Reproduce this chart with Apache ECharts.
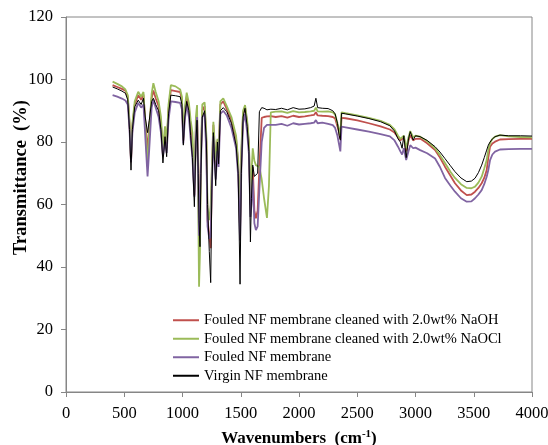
<!DOCTYPE html>
<html>
<head>
<meta charset="utf-8">
<script src="https://cdn.jsdelivr.net/npm/echarts@6/dist/echarts.min.js"></script>
<style>
  html, body { margin: 0; padding: 0; background: #fff; }
  #chart { width: 548px; height: 445px; }
</style>
</head>
<body>
<div id="chart"></div>
<script>
// FTIR spectra, values
const wavenumbers = [400,440,480,510,530,545,558,570,590,620,
  645,665,680,700,715,735,750,770,795,815,
  832,850,864,880,900,940,980,995,1007,1020,
  1036,1055,1070,1085,1102,1115,1125,1135,1142,1150,
  1158,1170,1190,1205,1215,1230,1242,1252,1265,1285,
  1300,1310,1325,1350,1380,1420,1460,1478,1494,1505,
  1520,1537,1555,1570,1583,1592,1603,1617,1630,1645,
  1660,1680,1700,1725,1742,1758,1800,1850,1900,1950,
  2000,2050,2100,2130,2145,2160,2200,2250,2290,2310,
  2330,2345,2355,2365,2400,2500,2600,2700,2780,2820,
  2850,2870,2885,2900,2920,2940,2955,2980,3000,3040,
  3100,3168,3210,3253,3300,3339,3390,3440,3480,3511,
  3540,3568,3590,3611,3625,3640,3660,3683,3725,3800,
  3900,4000];

const virgin = [97.6,97.0,96.3,95.6,93.5,84,71.0,84,91.3,93.4,
  92.0,94.0,88,83,87,93,94,92,90,84,
  73.3,81.7,75.3,89,95,94.8,94.5,92,79,88,
  93,90,82,75,59.3,80,87,70,55,46.5,
  70,88,90,80,60,45,35,65,83,66,
  80,73,90,91,89.7,86,79,70,34.5,70,
  88,90.8,85,77,48,62,72.6,69,68.5,70,
  89.7,91.0,90.8,90.3,90.3,90.5,90.4,90.8,90.3,91.0,
  90.5,90.6,91.0,91.5,94.0,91.0,90.8,90.7,90.0,89.0,
  86.0,82,80.6,89.2,89.0,88.3,87.5,86.5,85.2,83.5,
  81,80,78,82,75,81,83.3,80.6,82,81.7,
  80.5,78.5,76.8,74.7,72.4,70.5,68.5,67.3,67.5,68.4,
  70.2,72.6,75.0,77.4,79.0,80.0,81.0,81.7,82.2,82.0,
  82.0,81.9];

const naohCleaned = [98.2,97.6,97.0,96.4,94.5,86,73.5,85,92,95,
  93.5,95.2,87,77,85,94,96.5,94,91.5,86,
  76,83,78,90.5,96.6,96.3,96.0,93.5,80.5,89.5,
  94.5,91,84,79,63,84,89,72,52,54,
  75,90,91.5,80,55,50,46,70,85.5,71,
  80.5,75,92,93,90.5,87,81,73,52,75,
  89,91.2,86,79,60,66,72,58,55.6,58,
  72,87.7,88.0,88.2,88.2,88.3,88.0,88.3,87.8,88.4,
  88.0,88.2,88.5,88.7,89.5,88.5,88.4,88.3,88.0,87.5,
  85,83,81,87.7,87.6,86.9,86.0,85.0,84.0,83.0,
  81.5,80.5,80,81.5,77,80.5,82.2,80.5,81,81.1,
  79.6,77.4,75,72.1,69.2,66.8,64.5,63.0,63.2,64.1,
  65.3,66.8,68.5,71.0,75,78.5,79.5,80.1,80.8,80.9,
  81.0,81.0];

const naoclCleaned = [99.3,98.6,97.8,96.8,95.0,87,74,86,93,96.1,
  94.5,96.0,86,72,84,95.5,98.8,96,93,88,
  78,85,80,92,98.2,97.8,96.8,94.5,81.5,91,
  95.8,92.5,87,83,66,88,91.8,60,33.7,45,
  78,92,92.7,82,59,55,60,72,86.5,74,
  81,77,93,94,91.5,88,82,74,55,78,
  90,91.8,87,80,62,70,78,74,72.6,72.6,
  72,68,62,55.7,66,89.5,89.7,89.8,89.3,89.9,
  89.5,89.6,89.8,90.0,91.0,89.8,89.7,89.8,89.5,88.8,
  86,84,82,89.5,89.2,88.5,87.7,86.8,85.5,84.0,
  82,81,80.5,82,78,81.5,83.5,81.5,82,81.7,
  80.3,78.0,75.8,73.3,70.5,68.5,66.5,65.3,65.2,65.7,
  67.0,68.9,71.5,74.2,77.5,79.6,81.0,81.7,82.2,81.8,
  81.6,81.5];

const fouled = [95.0,94.5,93.9,93.3,92.0,84,73.5,83,89.5,92.5,
  91.0,92.0,82,69,78,91,93.5,91,88,83,
  75.5,80,76.5,87,93,92.8,92.5,90.5,79.5,87,
  92,88,81,75,62.5,82,88,68,50,49.5,
  72,88,89,76,53,49,49.7,66,82,68,
  77,72,89,90,88.5,84.5,78,69,48.5,71,
  86,89,83,76,56,60,68,54,51.8,53,
  65,80,84.5,85.5,85.5,85.5,85.5,85.8,85.2,86.0,
  85.6,85.8,86.0,86.2,87.0,86.0,86.2,85.8,85.4,84.5,
  82,79,77,84.9,84.7,84.0,83.3,82.5,81.8,80.5,
  78.5,77,76,78,74.2,77,79.0,78.0,78.2,77.4,
  76.4,74.7,72,68.5,66.0,64.1,62.0,60.9,61.0,62.0,
  63.2,64.6,66.5,68.9,71,74.2,76.0,76.9,77.6,77.7,
  77.8,77.8];

const seriesNames = [
  'Fouled NF membrane cleaned with 2.0wt% NaOH',
  'Fouled NF membrane cleaned with 2.0wt% NaOCl',
  'Fouled NF membrane',
  'Virgin NF membrane'
];

const FONT = "'Liberation Serif', 'Times New Roman', serif";

const pairs = (ys) => wavenumbers.map((x, i) => [x, ys[i]]);

const makeSeries = (name, ys, color, width) => ({
  name: name,
  type: 'line',
  data: pairs(ys),
  showSymbol: false,
  symbol: 'none',
  lineStyle: { color: color, width: width },
  itemStyle: { color: color },
  animation: false
});

const chart = echarts.init(document.getElementById('chart'), null, { renderer: 'canvas' });

chart.setOption({
  backgroundColor: '#fff',
  textStyle: { fontFamily: FONT },
  grid: {
    left: 66, right: 16, top: 17, bottom: 53,
    outerBoundsMode: 'none',
    containLabel: false,
    show: true, borderColor: '#868686', borderWidth: 1
  },
  legend: {
    data: seriesNames,
    orient: 'vertical',
    left: 168,
    top: 306,
    icon: 'rect',
    itemWidth: 26,
    itemHeight: 2,
    itemGap: 0,
    textStyle: { fontFamily: FONT, fontSize: 14.5, color: '#000', lineHeight: 18.5 }
  },
  xAxis: {
    type: 'value',
    min: 0, max: 4000, interval: 500,
    name: 'Wavenumbers  (cm{sup|-1})',
    nameLocation: 'middle',
    nameGap: 37,
    nameTextStyle: {
      fontFamily: FONT, fontSize: 17, fontWeight: 'bold', color: '#000',
      rich: {
        sup: { fontFamily: FONT, fontSize: 11, fontWeight: 'bold', color: '#000', verticalAlign: 'top', lineHeight: 20 }
      }
    },
    splitLine: { show: false },
    axisLine: { lineStyle: { color: '#868686', width: 1 } },
    axisTick: { show: true, length: 5, lineStyle: { color: '#868686' } },
    axisLabel: { fontFamily: FONT, fontSize: 16.5, color: '#000', margin: 13, formatter: (v) => String(v) }
  },
  yAxis: {
    type: 'value',
    min: 0, max: 120, interval: 20,
    name: 'Transmittance  (%)',
    nameLocation: 'middle',
    nameGap: 35,
    nameMoveOverlap: false,
    // the title sits a little above the middle of the axis in the original
    nameTextStyle: { fontFamily: FONT, fontSize: 18.5, fontWeight: 'bold', color: '#000', padding: [0, 0, 0, 54] },
    splitLine: { show: false },
    axisLine: { show: true, lineStyle: { color: '#868686', width: 1 } },
    axisTick: { show: true, length: 5, lineStyle: { color: '#868686' } },
    axisLabel: { fontFamily: FONT, fontSize: 16.5, color: '#000', margin: 13, formatter: (v) => String(v) }
  },
  series: [
    makeSeries(seriesNames[0], naohCleaned, '#C0504D', 1.8),
    makeSeries(seriesNames[1], naoclCleaned, '#9BBB59', 1.8),
    makeSeries(seriesNames[2], fouled, '#8064A2', 1.8),
    makeSeries(seriesNames[3], virgin, '#000000', 1)
  ]
});
</script>
</body>
</html>
